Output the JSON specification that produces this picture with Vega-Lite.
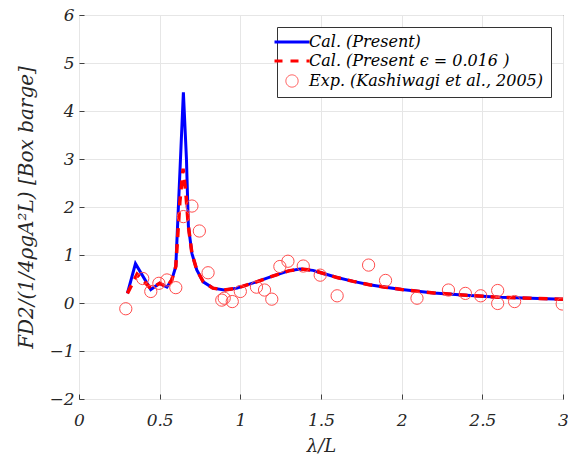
{
  "$schema": "https://vega.github.io/schema/vega-lite/v6.json",
  "autosize": {"type": "none"},
  "padding": {"left": 79, "top": 15, "right": 5, "bottom": 58},
  "width": 484,
  "height": 384,
  "background": "white",
  "config": {
    "view": {"stroke": "#404040", "strokeWidth": 1},
    "font": "DejaVu Serif"
  },
  "datasets": {
    "blue": [
      {"x": 0.3, "y": 0.2}, {"x": 0.35, "y": 0.82}, {"x": 0.445, "y": 0.28}, {"x": 0.5, "y": 0.41},
      {"x": 0.545, "y": 0.33}, {"x": 0.575, "y": 0.48}, {"x": 0.6, "y": 0.76}, {"x": 0.647, "y": 4.39},
      {"x": 0.666, "y": 3.0}, {"x": 0.678, "y": 1.6}, {"x": 0.7, "y": 1.03}, {"x": 0.73, "y": 0.69},
      {"x": 0.77, "y": 0.44}, {"x": 0.83, "y": 0.31}, {"x": 0.9, "y": 0.27}, {"x": 0.98, "y": 0.31},
      {"x": 1.1, "y": 0.44}, {"x": 1.2, "y": 0.56}, {"x": 1.3, "y": 0.67}, {"x": 1.37, "y": 0.71},
      {"x": 1.45, "y": 0.68}, {"x": 1.5, "y": 0.63}, {"x": 1.6, "y": 0.53}, {"x": 1.7, "y": 0.45},
      {"x": 1.8, "y": 0.38}, {"x": 1.9, "y": 0.33}, {"x": 2.0, "y": 0.28}, {"x": 2.2, "y": 0.21},
      {"x": 2.4, "y": 0.16}, {"x": 2.6, "y": 0.12}, {"x": 2.8, "y": 0.1}, {"x": 3.0, "y": 0.08}
    ],
    "red": [
      {"x": 0.3, "y": 0.2}, {"x": 0.36, "y": 0.6}, {"x": 0.445, "y": 0.3}, {"x": 0.5, "y": 0.41},
      {"x": 0.545, "y": 0.33}, {"x": 0.575, "y": 0.48}, {"x": 0.6, "y": 0.76}, {"x": 0.625, "y": 2.1},
      {"x": 0.645, "y": 2.8}, {"x": 0.662, "y": 2.3}, {"x": 0.678, "y": 1.6}, {"x": 0.7, "y": 1.03},
      {"x": 0.73, "y": 0.69}, {"x": 0.77, "y": 0.44}, {"x": 0.83, "y": 0.31}, {"x": 0.9, "y": 0.27},
      {"x": 0.98, "y": 0.31}, {"x": 1.1, "y": 0.44}, {"x": 1.2, "y": 0.56}, {"x": 1.3, "y": 0.67},
      {"x": 1.37, "y": 0.71}, {"x": 1.45, "y": 0.68}, {"x": 1.5, "y": 0.63}, {"x": 1.6, "y": 0.53},
      {"x": 1.7, "y": 0.45}, {"x": 1.8, "y": 0.38}, {"x": 1.9, "y": 0.33}, {"x": 2.0, "y": 0.28},
      {"x": 2.2, "y": 0.21}, {"x": 2.4, "y": 0.16}, {"x": 2.6, "y": 0.12}, {"x": 2.8, "y": 0.1},
      {"x": 3.0, "y": 0.08}
    ],
    "exp": [
      {"x": 0.29, "y": -0.12}, {"x": 0.395, "y": 0.51}, {"x": 0.445, "y": 0.24}, {"x": 0.495, "y": 0.41},
      {"x": 0.545, "y": 0.48}, {"x": 0.6, "y": 0.32}, {"x": 0.647, "y": 1.8}, {"x": 0.7, "y": 2.02},
      {"x": 0.746, "y": 1.5}, {"x": 0.8, "y": 0.63}, {"x": 0.885, "y": 0.06}, {"x": 0.9, "y": 0.1},
      {"x": 0.95, "y": 0.03}, {"x": 1.0, "y": 0.24}, {"x": 1.1, "y": 0.33}, {"x": 1.15, "y": 0.27},
      {"x": 1.195, "y": 0.08}, {"x": 1.245, "y": 0.76}, {"x": 1.295, "y": 0.87}, {"x": 1.39, "y": 0.77},
      {"x": 1.495, "y": 0.58}, {"x": 1.6, "y": 0.15}, {"x": 1.795, "y": 0.79}, {"x": 1.9, "y": 0.47},
      {"x": 2.095, "y": 0.1}, {"x": 2.29, "y": 0.27}, {"x": 2.395, "y": 0.2}, {"x": 2.49, "y": 0.15},
      {"x": 2.595, "y": 0.26}, {"x": 2.595, "y": -0.01}, {"x": 2.7, "y": 0.03}, {"x": 2.995, "y": -0.02}
    ]
  },
  "layer": [
    {
      "data": {"name": "blue"},
      "transform": [{"calculate": "'Cal. (Present)'", "as": "series"}],
      "mark": {"type": "line", "strokeWidth": 3, "clip": true},
      "encoding": {
        "x": {
          "field": "x", "type": "quantitative",
          "scale": {"domain": [0, 3], "nice": false},
          "axis": {
            "values": [0, 0.5, 1, 1.5, 2, 2.5, 3],
            "title": "λ/L",
            "titleFont": "DejaVu Serif", "titleFontStyle": "italic", "titleFontWeight": "normal",
            "titleFontSize": 18, "titleColor": "#262626", "titlePadding": 9,
            "labelFont": "DejaVu Serif", "labelFontStyle": "italic", "labelFontSize": 17,
            "labelColor": "#262626", "labelPadding": 18, "labelFlush": false,
            "tickSize": -5, "tickColor": "#404040", "tickWidth": 1, "domain": false,
            "grid": true, "gridColor": "#e6e6e6", "gridWidth": 1,
            "format": "~g"
          }
        },
        "y": {
          "field": "y", "type": "quantitative",
          "scale": {"domain": [-2, 6], "nice": false},
          "axis": {
            "values": [-2, -1, 0, 1, 2, 3, 4, 5, 6],
            "title": "FD2/(1/4ρgA²L) [Box barge]",
            "titleFont": "DejaVu Serif", "titleFontStyle": "italic", "titleFontWeight": "normal",
            "titleFontSize": 20, "titleColor": "#262626", "titlePadding": 12,
            "labelFont": "DejaVu Serif", "labelFontStyle": "italic", "labelFontSize": 17,
            "labelColor": "#262626", "labelPadding": 10, "labelFlush": false,
            "tickSize": -5, "tickColor": "#404040", "tickWidth": 1, "domain": false,
            "grid": true, "gridColor": "#e6e6e6", "gridWidth": 1
          }
        },
        "color": {
          "field": "series", "type": "nominal",
          "scale": {
            "domain": ["Cal. (Present)", "Cal. (Present ϵ = 0.016 )", "Exp. (Kashiwagi et al., 2005)"],
            "range": ["#0000ff", "#ff0000", "#ff4d4d"]
          },
          "legend": {
            "title": null,
            "orient": "top-right",
            "offset": 12,
            "padding": 7,
            "rowPadding": 3,
            "strokeColor": "#333333",
            "fillColor": "white",
            "labelFont": "DejaVu Serif",
            "labelFontStyle": "italic",
            "labelFontSize": 16,
            "labelColor": "#000000",
            "labelLimit": 400,
            "labelOffset": 9,
            "symbolSize": 1225,
            "symbolType": "stroke",
            "symbolStrokeWidth": 3,
            "encode": {
              "symbols": {
                "update": {
                  "shape": {"signal": "datum.index === 2 ? 'circle' : 'stroke'"},
                  "size": {"signal": "datum.index === 2 ? 150 : 1225"},
                  "strokeWidth": {"signal": "datum.index === 2 ? 1 : 3"},
                  "strokeDash": {"signal": "datum.index === 1 ? [8, 8] : [1, 0]"},
                  "fill": {"value": "transparent"},
                  "fillOpacity": {"value": 0},
                  "opacity": {"value": 1}
                }
              }
            }
          }
        }
      }
    },
    {
      "data": {"name": "red"},
      "transform": [{"calculate": "'Cal. (Present ϵ = 0.016 )'", "as": "series"}],
      "mark": {"type": "line", "strokeWidth": 3.5, "strokeDash": [9, 7], "clip": true},
      "encoding": {
        "x": {"field": "x", "type": "quantitative"},
        "y": {"field": "y", "type": "quantitative"},
        "color": {"field": "series", "type": "nominal"}
      }
    },
    {
      "data": {"name": "exp"},
      "transform": [{"calculate": "'Exp. (Kashiwagi et al., 2005)'", "as": "series"}],
      "mark": {"type": "point", "shape": "circle", "filled": false, "size": 150, "strokeWidth": 1, "opacity": 1, "clip": true},
      "encoding": {
        "x": {"field": "x", "type": "quantitative"},
        "y": {"field": "y", "type": "quantitative"},
        "color": {"field": "series", "type": "nominal"}
      }
    }
  ]
}
